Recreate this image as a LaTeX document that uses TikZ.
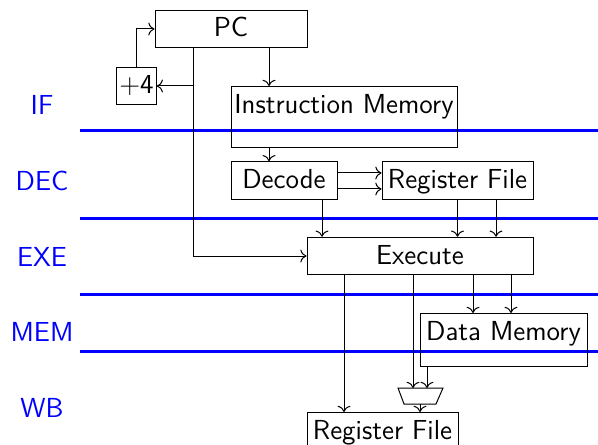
\documentclass[tikz,border=0pt]{standalone}
\usepackage{tikz}
\usetikzlibrary{arrows.meta,positioning,calc}
\tikzset{
  block/.style={draw,inner sep=3pt,text height=7.7pt,text depth=1.3pt},
  tallblock/.style={block,anchor=north,text depth=#1},
  stage/.style={draw=blue,line width=1.2pt},
  stagelabel/.style={text=blue},
  arr/.style={->}
}

\begin{document}
\begin{tikzpicture}[x=0.4pt,y=-0.4pt,font=\sffamily\fontsize{11}{13}\selectfont]
  \useasboundingbox (0,0) rectangle (598,445);

  \draw[stage] (80,131)--(598,131);
  \draw[stage] (80,218)--(598,218);
  \draw[stage] (80,294)--(598,294);
  \draw[stage] (80,351)--(598,351);
  \node[stagelabel] (lif)  at (42,105) {IF};
  \node[stagelabel] (ldec) at (42,181) {DEC};
  \node[stagelabel] (lexe) at (42,257) {EXE};
  \node[stagelabel] (lmem) at (42,332) {MEM};
  \node[stagelabel] (lwb)  at (42,408) {WB};

  \node[block,minimum width=60.8pt] (pc) at (231,29) {PC};
  \node[block,inner xsep=1pt,minimum width=15.6pt] (plus) at (136.5,86) {+4};
  \node[tallblock=10.7pt,minimum width=90.4pt,inner xsep=1pt] (imem) at (344,86) {Instruction Memory};
  \node[block,minimum width=42.4pt] (dec) at (284,180.5) {Decode};
  \node[block,minimum width=60.4pt,inner xsep=1.5pt] (rf) at (457.5,180.5) {Register File};
  \node[block,minimum width=90.4pt] (exe) at (420,256) {Execute};
  \node[tallblock=7.5pt,minimum width=66.8pt,inner xsep=1pt] (dmem) at (503.5,313) {Data Memory};
  \node[block,anchor=north,minimum width=60.4pt,inner xsep=1.5pt] (rfwb) at (382.5,412) {Register File};

  \coordinate (muxa) at (413,388);
  \coordinate (muxb) at (427,388);
  \coordinate (muxout) at (420,404);
  \draw (398,388)--(443,388)--(436,404)--(404,404)--cycle;

  \draw[arr] (pc.south -| 269,0) -- (imem.north -| 269,0);
  \draw[arr] (imem.south -| 269,0) -- (dec.north -| 269,0);
  \draw[arr] (pc.south -| 193,0) |- (exe.west);
  \draw[arr] (plus.east -| 193,0) -- (plus.east);
  \draw[arr] (plus.north) |- (pc.west);
  \draw[arr] (dec.east |- 0,173) -- (rf.west |- 0,173);
  \draw[arr] (dec.east |- 0,189) -- (rf.west |- 0,189);
  \draw[arr] (dec.south -| 322,0) -- (exe.north -| 322,0);
  \draw[arr] (rf.south) -- (rf.south |- exe.north);
  \draw[arr] (rf.south -| 496,0) -- (exe.north -| 496,0);
  \draw[arr] (exe.south -| 473,0) -- (dmem.north -| 473,0);
  \draw[arr] (exe.south -| 511,0) -- (dmem.north -| 511,0);
  \draw[arr] (exe.south -| 344,0) -- (rfwb.north -| 344,0);
  \draw[arr] (exe.south -| muxa) -- (muxa);
  \draw[arr] (dmem.south -| muxb) -- (muxb);
  \draw[arr] (muxout) -- (rfwb.north -| muxout);
\end{tikzpicture}
\end{document}
